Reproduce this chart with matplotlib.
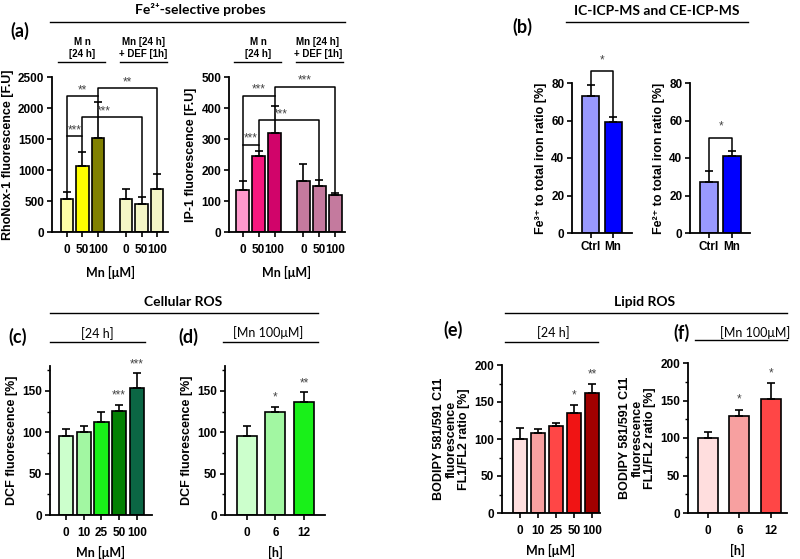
import matplotlib
matplotlib.use('Agg')
import matplotlib.pyplot as plt
from matplotlib.lines import Line2D
from matplotlib.ticker import MultipleLocator
import numpy as np

plt.rcParams['font.family'] = ['Liberation Sans', 'DejaVu Sans']
plt.rcParams['font.weight'] = 'bold'
plt.rcParams['axes.labelweight'] = 'bold'

# ---------------- data ----------------
dose_a_labels = ['0', '50', '100', '0', '50', '100']
rhonox_mean = [540, 1060, 1520, 530, 450, 700]
rhonox_err = [110, 230, 580, 160, 120, 230]
rhonox_colors = ['#FFFFA6', '#FFFF00', '#808000', '#F4F6C6', '#F4F6C6', '#F4F6C6']

ip1_mean = [135, 245, 320, 165, 148, 118]
ip1_err = [30, 15, 85, 55, 20, 8]
ip1_colors = ['#FF99CC', '#F7177F', '#D1046A', '#C47A9E', '#C47A9E', '#C47A9E']

b_labels = ['Ctrl', 'Mn']
fe3_mean = [73, 59]
fe3_err = [6, 3]
fe2_mean = [27, 41]
fe2_err = [6, 3]
b_colors = ['#9999FF', '#0000FF']

c_labels = ['0', '10', '25', '50', '100']
dcf_dose_mean = [96, 100, 112, 126, 154]
dcf_dose_err = [8, 7, 12, 7, 17]
dcf_dose_sig = ['', '', '', '***', '***']
c_colors = ['#CCFFCC', '#A2F7A2', '#19F019', '#038003', '#0B6644']

d_labels = ['0', '6', '12']
dcf_time_mean = [96, 125, 137]
dcf_time_err = [12, 6, 11]
dcf_time_sig = ['', '*', '**']
d_colors = ['#CCFFCC', '#A2F7A2', '#19F019']

e_labels = ['0', '10', '25', '50', '100']
bod_dose_mean = [100, 108, 117, 135, 162]
bod_dose_err = [15, 5, 4, 11, 12]
bod_dose_sig = ['', '', '', '*', '**']
e_colors = ['#FFDEDE', '#F7A0A0', '#FF4646', '#F01414', '#A00000']

f_labels = ['0', '6', '12']
bod_time_mean = [100, 129, 152]
bod_time_err = [8, 9, 21]
bod_time_sig = ['', '*', '*']
f_colors = ['#FFDEDE', '#F7A0A0', '#FF4646']

# ---------------- layout helpers ----------------
W, H = 800, 559
fig = plt.figure(figsize=(8, 5.59), dpi=100)
fig.patch.set_facecolor('white')

ARIAL = ['Liberation Sans', 'DejaVu Sans']
CAL = ['Lato', 'DejaVu Sans']
YL = 9
TL = 8.5


def ax_px(l, r, t, b):
    return fig.add_axes([l / W, 1 - b / H, (r - l) / W, (b - t) / H])


def ftext(x, y, s, size=8, family=None, weight='bold', ha='center', va='center', **kw):
    fam = family if family else ARIAL
    fig.text(x / W, 1 - y / H, s, fontsize=size, family=fam, weight=weight,
             ha=ha, va=va, **kw)


def fline(x1, x2, y, lw=1.0):
    fig.add_artist(Line2D([x1 / W, x2 / W], [1 - y / H, 1 - y / H],
                          transform=fig.transFigure, color='black', lw=lw))


def style(ax, ylim, yticks, minor=None, xlim=None):
    for s in ['top', 'right']:
        ax.spines[s].set_visible(False)
    for s in ['left', 'bottom']:
        ax.spines[s].set_linewidth(1.3)
    ax.set_ylim(*ylim)
    ax.set_yticks(yticks)
    if minor:
        ax.yaxis.set_minor_locator(MultipleLocator(minor))
        ax.tick_params(axis='y', which='minor', length=2.5, width=1.0)
    ax.tick_params(axis='both', which='major', length=3.5, width=1.2,
                   labelsize=TL, pad=2)
    ax.tick_params(axis='x', which='major', pad=5)
    if xlim:
        ax.set_xlim(*xlim)
    for lab in ax.get_xticklabels() + ax.get_yticklabels():
        lab.set_fontweight('bold')


def bars(ax, x, mean, err, colors, width):
    ax.bar(x, mean, width=width, color=colors, edgecolor='black', linewidth=1.2, zorder=2)
    ax.errorbar(x, mean, yerr=[np.zeros(len(err)), err], fmt='none', ecolor='black',
                elinewidth=1.2, capsize=3, capthick=1.2, zorder=3)


def seg(ax, xs, ys):
    ax.plot(xs, ys, color='black', lw=1.1, zorder=4, clip_on=False)


def star(ax, x, y, s, size=8.5):
    ax.text(x, y, s, ha='center', va='bottom', fontsize=size, color='#444444',
            fontweight='normal', family=ARIAL, clip_on=False)


# ---------------- (a) RhoNox-1 ----------------
xa = [0, 1, 2, 3.8, 4.8, 5.8]
ax = ax_px(52, 168, 77, 232)
bars(ax, xa, rhonox_mean, rhonox_err, rhonox_colors, 0.8)
style(ax, (0, 2500), range(0, 2501, 500), xlim=(-0.95, 6.5))
ax.set_xticks(xa)
ax.set_xticklabels(dose_a_labels)
ax.set_ylabel('RhoNox-1 fluorescence [F.U]', fontsize=YL, labelpad=3)
ax.set_xlabel('Mn [μM]', fontsize=9, family=CAL, labelpad=7)
top = [m + e for m, e in zip(rhonox_mean, rhonox_err)]
seg(ax, [xa[0], xa[0], xa[2]], [top[0], 2190, 2190])
seg(ax, [xa[2], xa[2], xa[5], xa[5]], [top[2], 2320, 2320, top[5]])
seg(ax, [xa[0], xa[1], xa[1]], [1548, 1548, top[1]])
seg(ax, [xa[1], xa[1], xa[4], xa[4]], [1548, 1855, 1855, top[4]])
star(ax, 1.0, 2190, '**')
star(ax, 3.9, 2320, '**')
star(ax, 0.5, 1548, '***')
star(ax, 2.4, 1855, '***')

# ---------------- (a) IP-1 ----------------
ax = ax_px(229, 345, 77, 232)
bars(ax, xa, ip1_mean, ip1_err, ip1_colors, 0.8)
style(ax, (0, 500), range(0, 501, 100), xlim=(-0.85, 6.4))
ax.set_xticks(xa)
ax.set_xticklabels(dose_a_labels)
ax.set_ylabel('IP-1 fluorescence [F.U]', fontsize=YL, labelpad=3)
ax.set_xlabel('Mn [μM]', fontsize=9, family=CAL, labelpad=7)
top = [m + e for m, e in zip(ip1_mean, ip1_err)]
seg(ax, [xa[0], xa[0], xa[2]], [top[0], 439, 439])
seg(ax, [xa[2], xa[2], xa[5], xa[5]], [top[2], 468, 468, top[5]])
seg(ax, [xa[0], xa[1], xa[1]], [281, 281, top[1]])
seg(ax, [xa[1], xa[1], xa[4], xa[4]], [281, 361, 361, top[4]])
star(ax, 1.0, 439, '***')
star(ax, 3.9, 468, '***')
star(ax, 0.5, 281, '***')
star(ax, 2.4, 361, '***')

# headers (a)
ftext(200, 10, 'Fe²⁺-selective probes', size=10, family=CAL)
fline(50, 345, 22)
ftext(10, 31, '(a)', size=13, family=CAL, ha='left')
ftext(82, 48, 'M n\n[24 h]', size=7, linespacing=1.15)
fline(58, 105, 62)
ftext(143, 48, 'Mn [24 h]\n+ DEF [1h]', size=7, linespacing=1.15)
fline(120, 167, 62)
ftext(258, 48, 'M n\n[24 h]', size=7, linespacing=1.15)
fline(234, 281, 62)
ftext(318, 48, 'Mn [24 h]\n+ DEF [1h]', size=7, linespacing=1.15)
fline(296, 343, 62)

# ---------------- (b) ----------------
xb = [0, 1]
ax = ax_px(572, 632, 83, 233)
bars(ax, xb, fe3_mean, fe3_err, b_colors, 0.77)
style(ax, (0, 80), range(0, 81, 20), xlim=(-0.86, 1.86))
ax.tick_params(axis='x', which='major', pad=2)
ax.set_xticks(xb)
ax.set_xticklabels(b_labels)
ax.set_ylabel('Fe³⁺ to total iron ratio [%]', fontsize=YL, labelpad=3)
seg(ax, [0, 0, 1, 1], [fe3_mean[0] + fe3_err[0], 86.4, 86.4, fe3_mean[1] + fe3_err[1]])
star(ax, 0.5, 89, '*')

ax = ax_px(690, 750, 83, 233)
bars(ax, xb, fe2_mean, fe2_err, b_colors, 0.77)
style(ax, (0, 80), range(0, 81, 20), xlim=(-0.83, 1.78))
ax.tick_params(axis='x', which='major', pad=2)
ax.set_xticks(xb)
ax.set_xticklabels(b_labels)
ax.set_ylabel('Fe²⁺ to total iron ratio [%]', fontsize=YL, labelpad=3)
seg(ax, [0, 0, 1, 1], [fe2_mean[0] + fe2_err[0], 50.7, 50.7, fe2_mean[1] + fe2_err[1]])
star(ax, 0.5, 53.5, '*')

ftext(657, 11, 'IC-ICP-MS and CE-ICP-MS', size=10, family=CAL)
fline(566, 748, 22)
ftext(512, 27, '(b)', size=13, family=CAL, ha='left')

# ---------------- (c) ----------------
xc = np.arange(len(c_labels))
ax = ax_px(50, 152, 366, 515)
bars(ax, xc, dcf_dose_mean, dcf_dose_err, c_colors, 0.8)
style(ax, (0, 180), [0, 50, 100, 150], minor=25, xlim=(-0.9, 4.85))
ax.set_xticks(xc)
ax.set_xticklabels(c_labels)
ax.set_ylabel('DCF fluorescence [%]', fontsize=YL, labelpad=3)
ax.set_xlabel('Mn [μM]', fontsize=9, family=CAL, labelpad=5)
for xi, m, e, s in zip(xc, dcf_dose_mean, dcf_dose_err, dcf_dose_sig):
    if s:
        star(ax, xi, m + e + 4, s)

# ---------------- (d) ----------------
xd = np.arange(len(d_labels))
ax = ax_px(225, 325, 366, 515)
bars(ax, xd, dcf_time_mean, dcf_time_err, d_colors, 0.7)
style(ax, (0, 180), [0, 50, 100, 150], minor=25, xlim=(-0.77, 2.74))
ax.set_xticks(xd)
ax.set_xticklabels(d_labels)
ax.set_ylabel('DCF fluorescence [%]', fontsize=YL, labelpad=3)
ax.set_xlabel('[h]', fontsize=9, family=CAL, labelpad=5)
for xi, m, e, s in zip(xd, dcf_time_mean, dcf_time_err, dcf_time_sig):
    if s:
        star(ax, xi, m + e + 4, s)

ftext(183, 302, 'Cellular ROS', size=10, family=CAL)
fline(50, 318, 313)
ftext(8, 337, '(c)', size=13, family=CAL, ha='left')
ftext(97, 334, '[24 h]', size=9, family=CAL, weight='normal')
fline(50, 145, 342)
ftext(178, 337, '(d)', size=13, family=CAL, ha='left')
ftext(268, 333, '[Mn 100μM]', size=9, family=CAL, weight='normal')
fline(223, 318, 342)

# ---------------- (e) ----------------
xe = np.arange(len(e_labels))
ax = ax_px(502, 600, 365, 513)
bars(ax, xe, bod_dose_mean, bod_dose_err, e_colors, 0.78)
style(ax, (0, 200), [0, 50, 100, 150, 200], minor=25, xlim=(-1.0, 4.44))
ax.set_xticks(xe)
ax.set_xticklabels(e_labels)
ax.set_ylabel('BODIPY 581/591 C11\nfluorescence\nFL1/FL2 ratio [%]', fontsize=YL,
              labelpad=3, linespacing=1.05)
ax.set_xlabel('Mn [μM]', fontsize=9, family=CAL, labelpad=5)
for xi, m, e, s in zip(xe, bod_dose_mean, bod_dose_err, bod_dose_sig):
    if s:
        star(ax, xi, m + e + 5, s)

# ---------------- (f) ----------------
xf = np.arange(len(f_labels))
ax = ax_px(688, 787, 363, 513)
bars(ax, xf, bod_time_mean, bod_time_err, f_colors, 0.64)
style(ax, (0, 200), [0, 50, 100, 150, 200], minor=25, xlim=(-0.63, 2.51))
ax.set_xticks(xf)
ax.set_xticklabels(f_labels)
ax.set_ylabel('BODIPY 581/591 C11\nfluorescence\nFL1/FL2 ratio [%]', fontsize=YL,
              labelpad=3, linespacing=1.05)
ax.set_xlabel('[h]', fontsize=9, family=CAL, labelpad=5)
for xi, m, e, s in zip(xf, bod_time_mean, bod_time_err, bod_time_sig):
    if s:
        star(ax, xi, m + e + 5, s)

ftext(645, 302, 'Lipid ROS', size=10, family=CAL)
fline(505, 787, 313)
ftext(443, 330, '(e)', size=13, family=CAL, ha='left')
ftext(553, 333, '[24 h]', size=9, family=CAL, weight='normal')
fline(505, 598, 342)
ftext(673, 333, '(f)', size=13, family=CAL, ha='left')
ftext(755, 333, '[Mn 100μM]', size=9, family=CAL, weight='normal')
fline(695, 787, 340)

fig.savefig('out.png', dpi=100, facecolor='white')
